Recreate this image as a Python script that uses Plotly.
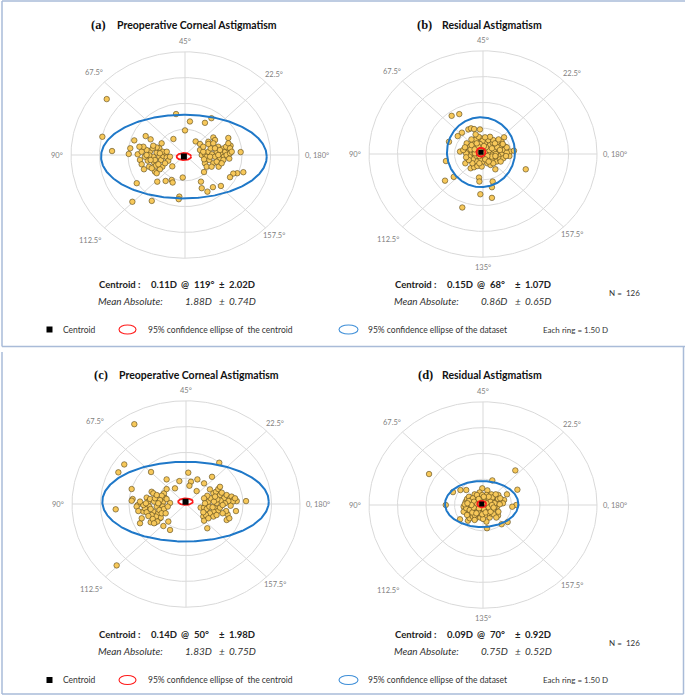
import numpy as np
import plotly.graph_objects as go

W, H = 685, 695

# ---------------- data ----------------
panel_tags = ["(a)", "(b)", "(c)", "(d)"]
panel_titles = ["Preoperative Corneal Astigmatism", "Residual Astigmatism",
                "Preoperative Corneal Astigmatism", "Residual Astigmatism"]

ring_step = 1.50
n_rings = 4
axis_labels = ["0, 180°", "22.5°", "45°", "67.5°", "90°", "112.5°", "135°", "157.5°"]
axis_angles = [0, 22.5, 45, 67.5, 90, 112.5, 135, 157.5]

centroid_mag = [0.11, 0.15, 0.14, 0.09]
centroid_axis = [119, 68, 50, 70]
centroid_sd = [2.02, 1.07, 1.98, 0.92]
mean_abs = [1.88, 0.86, 1.83, 0.75]
mean_abs_sd = [0.74, 0.65, 0.75, 0.52]
n_eyes = 126

# 95% confidence ellipses, semi-axes (D) along x / y of the double-angle plot
dataset_ellipse = [[4.36, 2.43], [1.79, 2.03], [4.38, 2.32], [1.93, 1.34]]
centroid_ellipse = [[0.385, 0.21], [0.24, 0.26], [0.39, 0.19], [0.24, 0.19]]

# double-angle vector components (D) of each eye
a_x = [-4.12, -0.47, 0.26, 1.39, 1.05, 0.00, -4.35, -2.67, -2.07, -1.81, -0.61, 0.56, 0.79, 1.23, 1.49, 1.58, 2.28,
       -3.84, -2.88, -2.96, 2.93, 3.07, 2.75, 2.54, 2.37, -0.12, -0.67, 1.00, 1.77, -2.54, -1.46, -1.02, -0.70, -0.65,
       0.84, 0.88, 1.18, 1.47, 1.89, -2.77, -1.75, -0.30, -0.33,
       -2.49, -2.37, -2.28, -2.16, -1.96, -1.89, -1.82, -1.67, -1.63, -1.58, -1.49, -1.35, -1.35, -1.26, -1.19, -1.14,
       -1.05, -0.96, -0.88, -0.79, -1.23, -1.49, -2.02, -1.70, -2.28, -1.53, -1.88, -2.11, -1.75, -1.32, -1.05, -2.19,
       -1.58, -1.40, -1.18, -1.67,
       0.88, 1.05, 1.14, 1.23, 1.28, 1.35, 1.42, 1.49, 1.58, 1.67, 1.75, 1.84, 1.88, 1.98, 2.05, 2.12, 2.19, 2.26, 2.33,
       2.40, 2.37, 1.05, 1.23, 1.49, 1.67, 1.32, 1.58, 1.84, 2.02, 2.16, 1.00, 1.14, 1.40, 1.75, 2.28, 0.79,
       2.37, 1.93, -2.02, -1.81, -0.96, -1.49, 0.96, 2.46, 0.96, -2.40, -1.32]
a_y = [3.25, 2.38, 1.95, 2.14, 1.87, 1.43, 1.06, 0.85, 1.10, 0.91, 0.93, 0.79, 0.64, 0.77, 1.02, 0.87, 0.99,
       0.23, 0.39, 0.06, 0.17, -1.00, -1.06, -1.08, -1.29, -1.31, -0.66, -0.99, -0.68, -1.64, -1.55, -1.51, -1.45, -1.60,
       -1.55, -1.93, -2.13, -1.87, -1.80, -2.72, -2.67, -2.42, -2.57,
       0.04, -0.29, -0.54, -0.83, -0.33, -0.68, 0.23, -0.10, -0.43, -0.97, 0.14, 0.39, -0.10, -0.29, -0.68, -0.06,
       0.14, -0.14, -0.33, -0.10, 0.68, 0.44, 0.29, 0.39, 0.19, -0.62, -0.02, -0.10, -0.77, -0.83, -0.48, 0.48,
       -0.29, -0.54, 0.19, 0.54,
       0.00, 0.06, -0.10, 0.19, -0.29, 0.39, 0.04, -0.48, -0.10, 0.19, 0.48, -0.19, 0.06, 0.37, -0.10, 0.19, 0.00, 0.39,
       -0.21, 0.54, 0.10, -0.48, 0.64, 0.68, -0.39, -0.10, 0.39, 0.29, -0.29, 0.48, -0.25, -0.68, -0.68, 0.00, 0.68, 0.29,
       0.39, -0.48, 0.00, -0.29, 0.19, -1.06, 0.19, 0.19, 0.48, 0.48, 0.10]

b_x = [-1.65, -1.25, -1.11, -1.33, -1.79, -0.77, -0.63, -0.47, -0.16, -0.11, -0.40, 1.11, 0.98, 1.16, 1.42, 1.63,
       1.39, 2.25, -1.95, -1.21, -0.93, -0.65, -0.47, -0.21, 0.65, -2.00, -1.54, -0.21, -0.19, 0.51, 0.47, -0.14, 0.47,
       -1.09,
       -0.86, -0.68, -0.51, -0.42, -0.30, -0.77, -0.60, -0.42, -0.25, -0.07,
       0.11, 0.23, 0.37, 0.51, 0.63, 0.72, 0.86, 0.98, 1.11, 1.25,
       0.81, 0.63, 0.46, 0.28, 0.11, 0.02, -0.16, -0.33, -0.54, -0.72,
       -0.89, -1.04, -0.95, -0.37, -0.02, 0.28, 0.54, 0.75, 0.89, -0.16,
       0.02, 0.19, 0.37, 0.54, 0.72, 0.89, 1.07, 1.21, -0.47, -0.65,
       -0.19, 0.23, 0.40, -0.30, -0.07, 0.11, 0.33, 0.58, 0.75, 0.46,
       0.68, 0.89, -0.25, -0.42, -0.60, 0.16, -0.02, 0.23, 0.93, 0.54,
       -0.12, -0.33, 0.12, 0.63, -0.56, -0.75, -0.89, 1.25, 1.04, 0.82,
       0.37, 0.11, -0.23, -0.39, -0.61, -0.09, 0.05, 0.30, -0.44, 0.47,
       0.65, -0.19]
b_y = [2.22, 2.32, 1.24, 1.04, 0.71, 1.43, 1.49, 1.45, 1.43, 0.91, 0.81, 0.97, 0.71, 0.43, 0.14, 0.19,
       -0.12, -0.89, -0.41, 0.14, -0.54, -0.83, -0.77, -0.64, -0.89, -1.55, -1.33, -1.37, -1.60, -1.60, -1.93, -2.34,
       -2.55, -3.11,
       0.62, 0.43, 0.66, 0.43, 0.23, 0.14, 0.00, -0.15, 0.04, 0.43,
       0.62, 0.39, 0.52, 0.66, 0.43, 0.23, 0.08, 0.00, 0.23, 0.08,
       -0.12, -0.25, -0.39, -0.25, -0.15, -0.44, -0.31, -0.44, -0.31, -0.15,
       0.04, 0.23, 0.39, 0.85, 0.77, 0.81, 0.81, 0.66, 0.43, 0.58,
       0.27, 0.04, 0.00, 0.04, -0.44, -0.31, -0.25, -0.12, 0.14, 0.27,
       -0.12, -0.54, -0.64, -0.70, -0.73, 0.14, 0.23, 0.23, 0.39, -0.15,
       0.00, 0.23, 0.43, 0.04, 0.52, 0.39, -0.06, -0.12, -0.44, -0.54,
       0.23, 0.62, -0.31, 0.62, -0.54, -0.35, -0.19, 0.39, 0.58, 0.85,
       1.00, 0.97, 1.00, 1.14, 0.85, 0.08, 0.46, -0.44, 0.27, 0.33,
       -0.12, -0.54]

c_x = [-2.72, -3.25, -3.56, -1.84, 1.75, 0.12, 0.26, 0.60, -0.35, -1.02, 1.37, 0.18, -0.58, 0.56, 0.95, -2.86, -3.70,
       -2.54, -0.84, 3.16, 2.63, 1.12, -3.65, -1.19, -0.84, -2.42, 2.14, 2.19, 0.91, 0.95, -2.25, -2.33, -1.86, -1.63,
       -1.37,
       -2.81, -2.86, -2.07, -1.98, -1.81, -1.72, -1.89, -1.68, -1.93, -2.16, -1.72, -1.54, -1.46, -1.33, -1.58, -1.81,
       -1.19, -1.11, -1.16, -1.28, -1.37, -1.02, -1.23, -1.63, -1.40, -1.02, -0.93, -1.16, -2.07, -1.98, -1.75, -1.51,
       -1.28, -1.86, -1.54, -2.25, -2.60, -2.42, -2.51, -2.11, -1.46, -1.07, -1.68, -0.96,
       0.77, 0.95, 1.09, 1.23, 1.18, 1.30, 1.26, 1.44, 1.58, 1.70, 1.79, 1.88, 2.00, 2.14, 2.32, 2.40, 2.49, 2.67, 2.46,
       2.23, 2.05, 1.82, 1.61, 1.53, 1.70, 1.44, 1.26, 1.05, 0.91, 1.44, 1.79, 1.93, 2.11, 2.28, 1.65, 1.47, 1.12, 0.95,
       1.79, 1.40, 1.00, 1.53, 1.93, 2.58, 2.35, 1.18, 1.61]
c_y = [4.64, 2.30, 1.84, 1.86, 2.40, 1.82, 1.29, 1.43, 1.33, 1.43, 1.58, 1.06, 0.91, 0.75, 1.20, 0.87, -0.31,
       -0.06, 0.06, 0.17, -0.41, -1.41, -3.57, -1.28, -1.51, -1.12, -0.93, -0.60, -0.73, -0.97, -0.44, -0.83, -1.06,
       -1.08, -0.83,
       0.29, 0.19, 0.37, 0.14, 0.71, 0.62, 0.29, 0.14, -0.15, -0.25, -0.44, -0.15, -0.54, -0.79, -0.73, -0.64,
       0.14, 0.37, 0.62, 0.48, 0.23, 0.29, -0.15, 0.33, -0.35, 0.87, -1.02, -0.29, -0.48, -0.70, -0.87, -1.02,
       -0.54, -0.29, 0.52, -0.06, -0.15, 0.14, -0.41, 0.04, 0.04, -0.54, -1.12, -0.15,
       -0.21, -0.21, -0.29, -0.15, 0.14, 0.33, 0.85, 0.62, 0.71, 0.87, 0.52, 0.66, 0.33, 0.52, 0.33, 0.43, 0.23, 0.17,
       0.14, 0.17, 0.04, 0.19, 0.04, -0.25, -0.39, -0.44, -0.54, -0.64, -0.48, -0.73, -0.21, -0.06, -0.41, -0.83, 0.27,
       0.14, 0.48, 0.33, 1.00, -0.19, 0.04, 0.43, -0.54, 0.33, -0.10, -0.83, -0.64]

d_x = [-2.84, 1.70, 0.49, 1.81, -1.58, -1.19, -0.88, -1.96, 1.75, 1.54, 1.26, 0.79, 0.98, 1.30, 0.21, -1.21, -0.79,
       -0.70, -0.04, 0.23, 0.44, 0.81, 1.11, 1.05, 0.74, 0.35, 0.18, 0.40,
       -1.02, -0.91, -0.84, -0.74, -0.61, -0.56, -0.44, -0.35, -0.26, -0.18,
       -0.09, 0.00, 0.09, 0.18, 0.26, 0.35, 0.44, 0.53, 0.61, 0.70,
       0.79, -0.91, -0.79, -0.67, -0.56, -0.44, -0.35, -0.26, -0.14, 0.00,
       0.14, 0.26, 0.35, 0.53, 0.61, -0.79, -0.65, -0.49, -0.39, -0.21,
       -0.04, 0.09, 0.21, 0.44, 0.56, -1.02, -0.84, -0.53, -0.39, -0.14,
       0.00, 0.14, 0.32, 0.49, 0.67, -0.18, -0.39, -0.70, -0.53, -0.32,
       -0.04, 0.21, 0.39, 0.61, 0.88, 0.91, 0.81, 0.70, -0.61, -0.14,
       -0.26, -0.44, -0.88, -0.74, 0.09,
       -0.70, -0.56, -0.47, -0.30, -0.09, 0.04, 0.18, 0.30, 0.47, -0.49, -0.21, -0.04, 0.14, -0.35, -0.61, -0.96,
       -0.82, 0.40, 0.56, 0.30, 0.04, -0.23, -0.44]
d_y = [1.80, 2.01, 1.43, 0.89, 0.75, 0.87, 0.87, 0.00, 0.00, -0.10, 0.62, -0.62, -1.12, -0.99, -1.35, -0.83, -0.91,
       -0.77, 0.97, 0.85, 0.62, 0.58, 0.29, 0.10, -0.10, -0.73, -0.97, -0.48,
       -0.10, 0.19, 0.35, 0.48, 0.29, 0.10, 0.62, 0.39, 0.19, 0.48,
       0.29, 0.10, 0.39, 0.58, 0.19, 0.39, 0.10, 0.25, 0.48, 0.19,
       0.35, -0.29, -0.39, -0.54, -0.19, -0.39, -0.10, -0.58, -0.29, -0.39,
       -0.19, -0.48, -0.23, -0.29, -0.10, -0.04, -0.10, 0.00, -0.23, -0.04,
       -0.15, -0.62, -0.35, -0.10, -0.54, -0.39, -0.58, -0.68, -0.77, -0.73,
       -0.81, -0.04, 0.00, 0.43, 0.62, 0.73, 0.15, 0.10, 0.39, 0.58,
       0.58, 0.35, 0.19, 0.10, 0.04, 0.39, -0.39, -0.73, -0.23, -0.48,
       -0.39, -0.58, -0.19, 0.23, 0.19,
       -0.29, -0.43, 0.19, 0.04, 0.04, -0.23, 0.10, -0.15, 0.00, -0.15, -0.19, -0.54, -0.43, -0.48, 0.00, 0.04,
       0.10, -0.39, -0.15, 0.48, 0.48, 0.35, -0.87]

points_x = [a_x, b_x, c_x, d_x]
points_y = [a_y, b_y, c_y, d_y]

# ---------------- styling / layout ----------------
centers = [(185, 155), (483, 154), (186, 504), (483, 505)]   # panel centres in px
PX_X, PX_Y = 19.0, 17.2      # px per dioptre (image is slightly stretched horizontally)
HALF_X, HALF_Y = 7.5, 7.0

GRID = "#d9d9d9"
BLUE = "#1f78c8"
RED = "#ff1a1a"
FILL = "#f7c85a"
EDGE = "#55451a"
LABEL = "#7f7f7f"
TXT = "#222222"
SANS = "Lato"

fig = go.Figure()
layout_axes = {}
annotations = []
shapes = []

t = np.linspace(0, 2 * np.pi, 361)
ring_r = [ring_step * (i + 1) for i in range(n_rings)]
R_OUT = ring_r[-1]

for i, (cx, cy) in enumerate(centers):
    k = "" if i == 0 else str(i + 1)
    xa, ya = "x" + k, "y" + k
    layout_axes["xaxis" + k] = dict(domain=[(cx - HALF_X * PX_X) / W, (cx + HALF_X * PX_X) / W],
                                    range=[-HALF_X, HALF_X], visible=False, fixedrange=True)
    layout_axes["yaxis" + k] = dict(domain=[(H - (cy + HALF_Y * PX_Y)) / H, (H - (cy - HALF_Y * PX_Y)) / H],
                                    range=[-HALF_Y, HALF_Y], visible=False, fixedrange=True)

    # rings
    rx, ry = [], []
    for r in ring_r:
        rx += list(r * np.cos(t)) + [None]
        ry += list(r * np.sin(t)) + [None]
    # spokes (double-angle: plot angle = 2 x axis)
    for a in axis_angles[:4]:
        th = np.radians(2 * a)
        rx += [R_OUT * np.cos(th), -R_OUT * np.cos(th), None]
        ry += [R_OUT * np.sin(th), -R_OUT * np.sin(th), None]
    fig.add_trace(go.Scatter(x=rx, y=ry, mode="lines", line=dict(color=GRID, width=1),
                             hoverinfo="skip", showlegend=False, xaxis=xa, yaxis=ya))

    # eyes
    fig.add_trace(go.Scatter(x=points_x[i], y=points_y[i], mode="markers",
                             marker=dict(size=5.5, color=FILL, line=dict(color=EDGE, width=0.6)),
                             showlegend=False, xaxis=xa, yaxis=ya))

    # centroid
    th = np.radians(2 * centroid_axis[i])
    ccx, ccy = centroid_mag[i] * np.cos(th), centroid_mag[i] * np.sin(th)
    ex, ey = dataset_ellipse[i]
    fig.add_trace(go.Scatter(x=ccx + ex * np.cos(t), y=ccy + ey * np.sin(t), mode="lines",
                             line=dict(color=BLUE, width=2), hoverinfo="skip", showlegend=False,
                             xaxis=xa, yaxis=ya))
    ex, ey = centroid_ellipse[i]
    fig.add_trace(go.Scatter(x=ccx + ex * np.cos(t), y=ccy + ey * np.sin(t), mode="lines",
                             line=dict(color=RED, width=1.8), hoverinfo="skip", showlegend=False,
                             xaxis=xa, yaxis=ya))
    fig.add_trace(go.Scatter(x=[ccx], y=[ccy], mode="markers",
                             marker=dict(symbol="square", size=6 if i in (0, 2) else 5, color="black"),
                             showlegend=False, xaxis=xa, yaxis=ya))

    # angle labels
    for lab, a in zip(axis_labels, axis_angles):
        if a == 135 and i in (0, 2):
            continue
        th = np.radians(2 * a)
        if a == 0:
            annotations.append(dict(x=6.2, y=0, xref=xa, yref=ya, text=lab, showarrow=False,
                                    xanchor="left", yanchor="middle",
                                    font=dict(family=SANS, size=7.5, color=LABEL)))
            continue
        if a == 90:
            annotations.append(dict(x=-6.3, y=0, xref=xa, yref=ya, text=lab, showarrow=False,
                                    xanchor="right", yanchor="middle",
                                    font=dict(family=SANS, size=7.5, color=LABEL)))
            continue
        rl = {67.5: 6.75, 112.5: 7.05}.get(a, 6.6)
        annotations.append(dict(x=rl * np.cos(th), y=rl * np.sin(th), xref=xa, yref=ya, text=lab,
                                showarrow=False, xanchor="center", yanchor="middle",
                                font=dict(family=SANS, size=7.5, color=LABEL)))


def pann(x, y, text, size, family=SANS, color=TXT, anchor="left"):
    annotations.append(dict(x=x / W, y=1 - y / H, xref="paper", yref="paper", text=text, showarrow=False,
                            xanchor=anchor, yanchor="middle", font=dict(family=family, size=size, color=color)))


# titles
tag_x = [89, 414.7, 91.7, 415.7]
title_x = [115, 439.7, 116.7, 439.7]
title_y = [25, 25, 375, 374.5]
for i in range(4):
    pann(tag_x[i], title_y[i], "<b>%s</b>" % panel_tags[i], 12.5, family="Liberation Serif", color="#111111")
    pann(title_x[i], title_y[i], "<b>%s</b>" % panel_titles[i], 10.5, color="#111111")

# statistics text
stat_x0 = [97, 393, 97, 393]
row_y = [284.3, 284.3, 634.3, 634.3]
for i in range(4):
    x0 = stat_x0[i]
    y1, y2 = row_y[i], row_y[i] + 16.4
    pann(x0, y1, "<b>Centroid :</b>", 9.5)
    pann(x0 + 51.5, y1, "<b>%.2fD</b>" % centroid_mag[i], 9.5)
    pann(x0 + 82, y1, "<b>@</b>", 9.5)
    pann(x0 + 95, y1, "<b>%d°</b>" % centroid_axis[i], 9.5)
    pann(x0 + 120, y1, "<b>±</b>", 9.5)
    pann(x0 + 130, y1, "<b>%.2fD</b>" % centroid_sd[i], 9.5)
    pann(x0 - 1, y2, "<i>Mean Absolute:</i>", 10, color="#333333")
    pann(x0 + 86, y2, "<i>%.2fD</i>" % mean_abs[i], 10, color="#333333")
    pann(x0 + 120, y2, "<i>±</i>", 10, color="#333333")
    pann(x0 + 130, y2, "<i>%.2fD</i>" % mean_abs_sd[i], 10, color="#333333")

for ny in (293.3, 643.3):
    pann(607, ny, "N =  %d" % n_eyes, 8, color="#333333")

# legend rows
for ly in (329.5, 680):
    shapes.append(dict(type="rect", xref="paper", yref="paper", x0=46.5 / W, x1=52.5 / W,
                       y0=1 - (ly + 3) / H, y1=1 - (ly - 3) / H, fillcolor="black", line=dict(width=0)))
    pann(61, ly, "Centroid", 8.5, color="#333333")
    shapes.append(dict(type="circle", xref="paper", yref="paper", x0=119 / W, x1=136 / W,
                       y0=1 - (ly + 4.5) / H, y1=1 - (ly - 4.5) / H, line=dict(color=RED, width=1.1)))
    pann(145.5, ly, "95% confidence ellipse of  the centroid", 8.5, color="#333333")
    shapes.append(dict(type="circle", xref="paper", yref="paper", x0=339 / W, x1=358 / W,
                       y0=1 - (ly + 4.5) / H, y1=1 - (ly - 4.5) / H, line=dict(color="#3f8fd8", width=1.1)))
    pann(366, ly, "95% confidence ellipse of the dataset", 8.5, color="#333333")
    pann(541, ly, "Each ring = %.2f D" % ring_step, 8, color="#333333")

# frames
FRAME = "#a9bbd8"
def pline(x0, y0, x1, y1):
    shapes.append(dict(type="line", xref="paper", yref="paper", x0=x0 / W, x1=x1 / W,
                       y0=1 - y0 / H, y1=1 - y1 / H, line=dict(color=FRAME, width=1.5)))
pline(2, 1, 690, 1)
pline(2, 1, 2, 346.5)
pline(2, 346.5, 690, 346.5)
pline(2, 352, 2, 694)
pline(2, 694, 683.5, 694)
pline(683.5, 347, 683.5, 694)

fig.update_layout(width=W, height=H, autosize=False, margin=dict(l=0, r=0, t=0, b=0),
                  paper_bgcolor="white", plot_bgcolor="rgba(0,0,0,0)", showlegend=False,
                  annotations=annotations, shapes=shapes, **layout_axes)
fig.write_html("out.html", config={"displayModeBar": False, "staticPlot": True},
               post_script="document.body.style.margin='0';document.body.style.overflow='hidden';")
